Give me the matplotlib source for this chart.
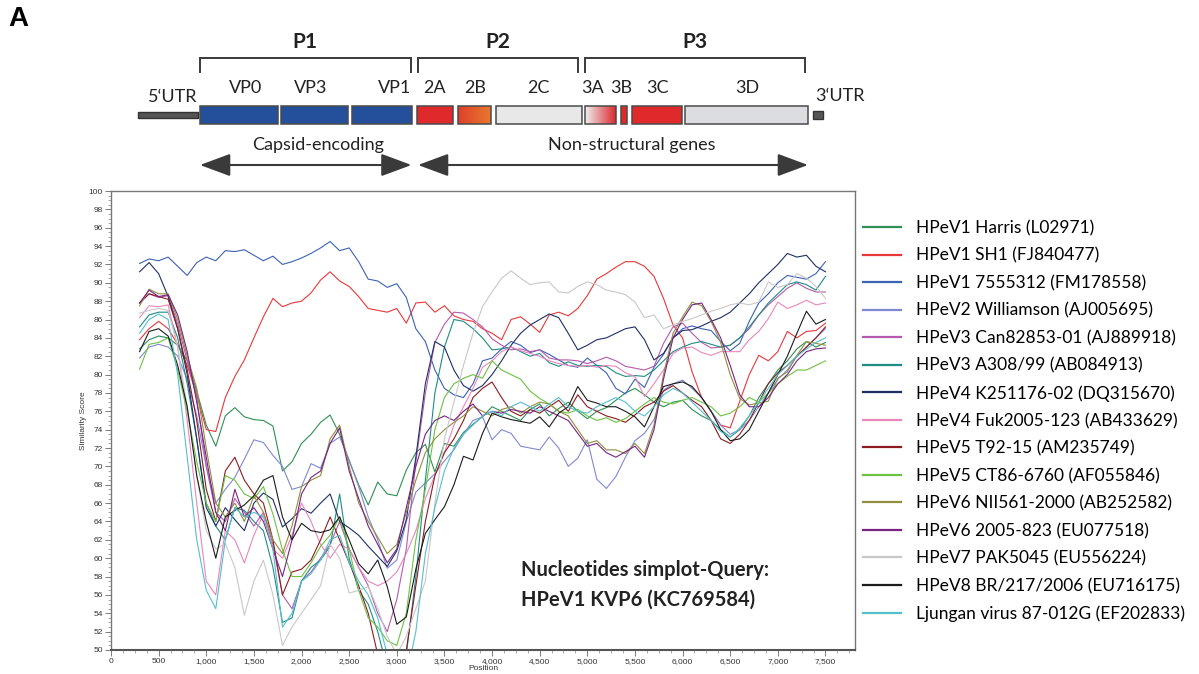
import numpy as np
import matplotlib.pyplot as plt
from matplotlib.patches import Rectangle
from matplotlib.colors import LinearSegmentedColormap
from matplotlib.ticker import MultipleLocator, StrMethodFormatter

# window centres (nt) of the simplot scan
position = list(range(300, 7501, 100))

# similarity scores, one list per reference strain
harris = [82.8, 83.8, 84.2, 84.0, 83.2, 81.5, 78.2, 74.5, 72.2, 75.5,
          76.4, 75.4, 75.1, 75.0, 74.4, 69.5, 70.5, 72.5, 73.5, 74.8,
          75.6, 73.5, 70.6, 68.0, 65.8, 68.3, 67.0, 66.8, 69.6, 71.5,
          72.4, 69.4, 72.5, 72.2, 73.7, 74.6, 75.4, 76.5, 76.0, 75.5,
          75.0, 76.2, 76.8, 75.5, 76.3, 77.0, 76.0, 75.2, 76.0, 76.4,
          77.2, 78.0, 78.5, 77.8, 77.0, 76.5, 77.0, 77.2, 76.2, 75.5,
          75.0, 74.0, 73.2, 74.0, 75.5, 77.5, 79.0, 80.5, 81.5, 82.8,
          83.6, 83.0, 83.5]
sh1 = [83.8, 85.0, 85.8, 85.0, 83.3, 81.0, 77.8, 74.0, 73.8, 77.5,
       79.8, 81.6, 84.0, 86.3, 88.3, 87.4, 87.8, 88.0, 88.9, 90.3,
       91.2, 90.2, 89.6, 88.5, 87.2, 87.0, 86.8, 87.2, 85.6, 87.8,
       87.9, 86.8, 87.5, 86.4, 86.0, 85.8, 85.0, 84.5, 83.8, 86.0,
       86.3, 85.5, 84.6, 86.5, 86.8, 86.4, 87.2, 88.6, 90.4, 91.0,
       91.7, 92.3, 92.3, 91.8, 90.7, 88.3, 85.4, 84.0, 80.3, 77.5,
       76.0, 74.5, 74.2, 77.1, 80.0, 82.1, 81.5, 82.5, 84.7, 84.0,
       84.7, 84.8, 85.6]
fm178558 = [92.1, 92.6, 92.4, 92.8, 91.8, 90.8, 92.2, 92.8, 92.4, 93.5,
            93.4, 93.6, 93.0, 92.4, 92.9, 92.0, 92.3, 92.7, 93.2, 93.8,
            94.5, 93.5, 93.8, 92.3, 90.4, 90.2, 89.5, 89.9, 88.4, 85.0,
            83.6, 80.5, 78.5, 77.8, 77.5, 79.0, 81.5, 81.8, 82.8, 83.6,
            83.2, 82.4, 82.7, 82.2, 81.6, 81.0, 80.8, 81.8, 81.0, 80.2,
            78.5, 77.9, 79.5, 78.6, 80.8, 82.2, 84.0, 85.0, 85.3, 85.0,
            84.8, 83.6, 82.6, 83.4, 85.8, 87.8, 88.8, 90.0, 90.8, 90.6,
            90.4, 91.0, 92.3]
williamson = [81.8, 83.0, 83.3, 83.0, 82.0, 79.5, 75.5, 70.0, 66.0, 67.5,
              68.8, 70.8, 72.9, 72.6, 71.2, 70.0, 67.5, 67.8, 70.3, 69.8,
              72.5, 73.2, 70.7, 67.8, 64.5, 62.0, 58.9, 59.8, 64.0, 67.2,
              68.2, 69.2, 70.6, 71.8, 73.5, 75.0, 75.4, 72.9, 74.0, 73.6,
              72.2, 72.0, 71.8, 73.2, 72.0, 70.0, 70.9, 72.9, 68.6, 67.6,
              68.9, 71.0, 72.8, 73.6, 75.1, 78.3, 79.0, 79.4, 78.5, 77.5,
              76.0, 74.5, 73.5, 74.0, 75.0, 76.5, 78.0, 79.5, 80.5, 82.0,
              83.0, 84.0, 85.0]
can82853 = [87.8, 88.8, 88.4, 88.6, 85.5, 81.5, 77.5, 70.0, 65.0, 64.0,
            66.5, 65.0, 63.5, 65.0, 61.5, 56.0, 54.5, 57.5, 58.5, 60.0,
            61.5, 64.0, 61.0, 59.0, 57.0, 54.0, 52.0, 55.5, 61.0, 70.5,
            78.0, 83.5, 85.5, 86.8, 86.7, 86.0, 85.2, 83.9, 83.2, 82.7,
            82.8, 82.5, 82.7, 81.8, 81.6, 81.6, 81.5, 81.2, 81.5, 81.9,
            81.5, 80.9, 80.7, 80.5, 80.9, 83.4, 85.2, 85.6, 84.5, 83.5,
            82.9, 83.0, 83.2, 84.0, 85.0, 86.5, 87.6, 88.5, 89.4, 90.0,
            89.4, 89.0, 89.0]
a308 = [85.2, 86.5, 86.8, 86.8, 84.0, 79.0, 73.0, 66.0, 63.5, 62.0,
        65.5, 65.2, 64.0, 63.0, 59.0, 53.0, 53.5, 57.5, 59.0, 59.8,
        61.3, 67.0, 60.0, 56.5, 55.0, 52.0, 48.0, 47.0, 49.5, 58.0,
        68.5, 78.0, 83.0, 86.0, 85.8, 85.0, 84.0, 82.7, 82.8, 83.0,
        82.5, 82.0, 82.3, 81.3, 80.9, 81.4, 81.0, 80.9, 81.0, 80.9,
        80.2, 79.8, 79.9, 79.8, 80.5, 81.5, 82.5, 83.0, 83.4, 83.6,
        83.3, 83.0, 83.2, 84.0, 85.2, 86.5, 87.8, 88.8, 89.8, 90.1,
        89.8, 89.2, 90.7]
k251176 = [91.2, 92.2, 91.0, 88.5, 85.0, 80.0, 73.0, 65.5, 63.5, 65.5,
           64.2, 63.0, 66.0, 67.1, 66.4, 63.4, 64.3, 65.4, 64.9, 66.0,
           67.0, 64.0, 63.3, 62.5, 61.3, 60.2, 59.1, 60.8, 64.2, 71.0,
           79.0, 83.6, 83.0, 80.5, 78.8, 78.2, 78.8, 80.0, 81.5, 83.2,
           84.5, 85.4, 86.0, 86.6, 86.2, 84.5, 82.7, 83.2, 83.8, 84.0,
           84.5, 85.0, 85.2, 83.8, 81.6, 82.3, 84.0, 84.8, 84.9, 85.3,
           85.8, 86.2, 86.8, 87.8, 88.8, 90.0, 91.0, 92.0, 93.2, 92.8,
           93.0, 91.8, 91.2]
fuk2005 = [86.2, 87.5, 87.4, 87.6, 83.0, 75.0, 66.0, 57.5, 56.0, 63.0,
           62.0, 59.5, 62.5, 64.8, 61.0, 60.0, 62.5, 66.0, 64.0, 61.5,
           60.0, 61.5, 61.0, 59.0, 57.5, 57.0, 57.5, 58.5, 60.5, 63.0,
           66.5, 69.0, 71.5, 74.5, 76.5, 78.5, 80.8, 81.5, 82.5, 83.0,
           82.6, 82.3, 82.0, 81.5, 81.2, 81.0, 80.9, 81.0, 80.8, 81.0,
           80.9, 80.2, 79.8, 77.6, 79.0, 80.5, 82.3, 82.9, 83.0, 82.4,
           82.1, 82.5, 82.5, 82.5, 83.8, 84.7, 86.1, 87.9, 87.2, 87.6,
           88.1, 87.6, 87.8]
t92 = [87.8, 88.8, 88.5, 88.2, 85.0, 80.5, 75.0, 67.5, 64.0, 69.5,
       71.0, 68.5, 67.0, 66.0, 62.0, 56.0, 58.5, 58.8, 59.8, 62.0,
       64.5, 62.0, 59.5, 57.0, 54.0, 49.5, 47.5, 48.0, 50.0, 57.0,
       64.0, 69.0, 71.5, 73.0, 75.0, 77.5, 78.5, 79.2, 77.5, 76.0,
       75.5, 76.2, 75.8, 76.5, 77.2, 76.0, 77.8, 76.5, 76.0, 75.5,
       75.2, 74.8, 75.6, 76.5, 77.0, 78.2, 78.8, 78.0, 77.2, 76.5,
       75.0, 73.0, 72.5, 73.5, 75.0, 77.0, 79.0, 80.2, 81.0, 82.0,
       83.0, 84.0, 85.2]
ct86 = [80.6, 83.3, 83.5, 84.0, 80.5, 76.0, 70.5, 66.0, 64.0, 69.0,
        68.5, 67.0, 66.5, 67.8, 64.8, 60.9, 58.0, 58.0, 59.5, 61.3,
        62.5, 64.5, 61.0, 56.5, 53.5, 52.5, 51.0, 50.5, 54.0, 62.0,
        67.5, 74.0, 77.5, 79.0, 79.6, 80.0, 79.6, 81.5, 80.5, 80.0,
        79.5, 78.2, 77.4, 76.8, 76.0, 75.8, 76.2, 75.5, 75.0, 75.3,
        74.8, 75.2, 76.0, 76.8, 77.5, 77.0, 76.8, 77.2, 77.5, 77.0,
        76.5, 75.5, 75.8, 76.5, 77.5, 77.0, 78.0, 79.0, 79.8, 80.5,
        80.5, 81.0, 81.5]
nii561 = [87.5, 89.3, 88.8, 88.8, 86.0, 82.0, 78.5, 72.0, 66.0, 64.5,
          66.0, 64.0, 66.8, 65.0, 62.0, 60.5, 63.5, 67.8, 68.5, 69.0,
          73.0, 74.5, 70.0, 66.0, 64.0, 62.3, 60.5, 61.5, 65.0, 68.5,
          71.5, 73.0, 74.0, 74.8, 75.5, 76.5, 76.0, 75.5, 76.2, 76.5,
          75.8, 76.5, 77.0, 76.8, 76.0, 75.5, 74.0, 72.5, 72.8, 71.8,
          71.8, 71.4, 72.5, 71.4, 74.5, 80.0, 84.5, 86.3, 87.9, 87.5,
          85.8, 83.5, 80.0, 77.4, 76.7, 76.9, 77.1, 79.6, 80.3, 82.1,
          83.6, 83.4, 83.2]
e2005 = [87.8, 89.2, 88.5, 88.7, 86.5, 82.5, 77.0, 71.0, 65.0, 63.0,
         67.5, 64.5, 65.5, 64.0, 61.0, 58.0, 62.0, 67.0, 68.8, 69.5,
         72.5, 74.2, 69.5, 66.5, 63.5, 61.5, 59.5, 61.0, 65.5, 70.0,
         73.5, 75.0, 75.5, 75.0, 76.0, 76.8, 75.5, 76.0, 75.8, 76.2,
         76.0, 75.8, 76.5, 76.0, 75.5, 75.0, 73.6, 72.2, 72.5, 71.5,
         71.0, 71.6, 72.2, 71.0, 74.0, 79.5, 84.0, 86.0, 87.6, 87.8,
         86.0, 84.0, 81.0, 77.8, 76.5, 76.5, 77.5, 79.0, 80.0, 81.5,
         82.5, 82.8, 82.9]
pak5045 = [86.7, 87.0, 87.2, 87.0, 83.0, 76.5, 69.0, 63.0, 61.0, 61.6,
           59.0, 53.8, 57.5, 59.8, 56.0, 50.5, 52.5, 54.0, 55.5, 57.0,
           61.5, 60.0, 56.2, 56.5, 56.9, 54.5, 51.5, 49.5, 51.5, 54.5,
           57.5, 66.0, 73.0, 77.0, 81.0, 84.5, 87.4, 89.0, 90.5, 91.3,
           90.5, 89.8, 90.0, 90.1, 89.0, 88.9, 89.6, 90.1, 89.8, 89.2,
           89.0, 88.7, 87.9, 86.2, 86.5, 85.0, 85.4, 85.8, 86.1, 86.5,
           86.9, 87.2, 87.6, 87.8, 87.6, 87.9, 90.1, 89.5, 89.8, 91.0,
           90.5, 89.6, 88.3]
br217 = [82.5, 84.7, 85.0, 84.2, 81.0, 76.5, 69.0, 64.0, 60.0, 64.5,
         65.2, 65.8, 66.8, 68.5, 69.0, 64.5, 62.0, 63.8, 63.0, 62.8,
         63.1, 64.5, 62.0, 59.4, 58.3, 59.8, 56.9, 52.8, 53.6, 58.8,
         62.7, 64.2, 65.6, 68.0, 71.1, 70.7, 73.6, 75.8, 75.4, 75.1,
         74.9, 74.7, 75.4, 74.3, 75.8, 76.5, 78.7, 77.2, 76.9, 76.5,
         76.5, 76.0, 75.4, 74.3, 76.5, 78.7, 79.0, 79.2, 78.7, 77.5,
         76.0, 74.0, 72.8, 73.0, 74.0, 76.0, 78.0, 80.0, 82.0, 84.5,
         86.9, 85.5, 86.0]
ljungan = [84.5, 86.0, 86.6, 86.0, 80.0, 71.0, 62.0, 56.5, 54.5, 62.0,
           65.5, 64.5, 65.0, 64.5, 61.0, 52.5, 54.0, 57.5, 58.3, 59.8,
           62.0, 62.5, 59.5, 57.5, 56.0, 53.5, 49.5, 47.5, 47.0, 52.0,
           60.5, 65.5, 69.5, 72.0, 73.5, 74.5, 75.5, 76.0, 75.5, 76.5,
           77.0, 76.5, 76.0, 76.8, 77.5, 76.5, 76.0, 75.8, 76.5, 77.0,
           77.5, 77.0, 76.0, 75.5, 76.5, 77.8, 78.5, 78.0, 77.0, 76.0,
           75.0, 73.8, 73.2, 74.2, 75.5, 77.0, 78.5, 80.0, 81.0, 82.0,
           82.8, 83.5, 84.0]

labels = ['HPeV1 Harris (L02971)', 'HPeV1 SH1 (FJ840477)', 'HPeV1 7555312 (FM178558)',
          'HPeV2 Williamson (AJ005695)', 'HPeV3 Can82853-01 (AJ889918)', 'HPeV3 A308/99 (AB084913)',
          'HPeV4 K251176-02 (DQ315670)', 'HPeV4 Fuk2005-123 (AB433629)', 'HPeV5 T92-15 (AM235749)',
          'HPeV5 CT86-6760 (AF055846)', 'HPeV6 NII561-2000 (AB252582)', 'HPeV6 2005-823 (EU077518)',
          'HPeV7 PAK5045 (EU556224)', 'HPeV8 BR/217/2006 (EU716175)', 'Ljungan virus 87-012G (EF202833)']
series = [harris, sh1, fm178558, williamson, can82853, a308, k251176, fuk2005,
          t92, ct86, nii561, e2005, pak5045, br217, ljungan]
colors = ['#2f8f55', '#e8383a', '#3d62b3', '#8088d2', '#b55aae', '#1f8c86', '#1e2f66', '#ea86bd',
          '#8c1c22', '#6cc241', '#8f8f3f', '#7a2482', '#c8c8c8', '#1b1b1b', '#54bfd0']

# genome map segments (drawing units = pixels of the figure)
seg_names = ['VP0', 'VP3', 'VP1', '2A', '2B', '2C', '3A', '3B', '3C', '3D']
seg_start = [200, 280.5, 351.5, 416.5, 457.5, 495.5, 584.5, 620.5, 631.5, 684.5]
seg_end = [277.5, 347.5, 411.5, 452.5, 490.5, 581.5, 615.5, 626.5, 681.5, 807.5]
seg_color = ['#234f9b', '#234f9b', '#234f9b', '#e0292b', 'grad_orange', '#e8e8e8',
             'grad_red', '#e0292b', '#e0292b', '#dcdde0']
seg_label_x = [246, 311, 395, 434, 475, 538, 593, 621, 657, 747]

fig = plt.figure(figsize=(11.99, 6.74), dpi=100)

# ---- genome diagram layer (pixel coordinates) ----
dg = fig.add_axes([0, 0, 1, 1])
dg.axis('off')

font = 'Lato'
dark = '#3a3a3a'
dg.text(8, 19, 'A', fontsize=20, fontweight='bold', family='Liberation Sans', va='center', ha='left')

for n, s, e, c in zip(seg_names, seg_start, seg_end, seg_color):
    y0, y1 = 106, 124
    if c.startswith('grad'):
        if c == 'grad_orange':
            cmap = LinearSegmentedColormap.from_list('o', ['#e0402a', '#e8782e'])
        else:
            cmap = LinearSegmentedColormap.from_list('r', ['#eeeeee', '#dd2a30'])
        grad = np.linspace(0, 1, 64).reshape(1, -1)
        dg.imshow(grad, cmap=cmap, extent=(s, e, y1, y0), aspect='auto', zorder=2)
        dg.add_patch(Rectangle((s, y0), e - s, y1 - y0, fill=False, ec='#4a4a4a', lw=1.1, zorder=3))
    else:
        dg.add_patch(Rectangle((s, y0), e - s, y1 - y0, fc=c, ec='#4a4a4a', lw=1.1, zorder=3))
for n, x in zip(seg_names, seg_label_x):
    dg.text(x, 88, n, fontsize=13, family=font, ha='center', va='center', color='#222')

# UTRs
dg.add_patch(Rectangle((138, 111.5), 60, 6.5, fc='#555555', ec='#333333', lw=1, zorder=3))
dg.add_patch(Rectangle((813, 110.5), 10, 8, fc='#555555', ec='#333333', lw=1, zorder=3))
dg.text(173, 97, '5‘UTR', fontsize=13, family=font, ha='center', va='center', color='#222')
dg.text(840, 96, '3‘UTR', fontsize=13, family=font, ha='center', va='center', color='#222')

# polyprotein brackets
for (a, b, name) in [(199.5, 411, 'P1'), (418, 577.5, 'P2'), (584.5, 804.5, 'P3')]:
    dg.plot([a, a, b, b], [72, 58, 58, 72], color=dark, lw=1.4, solid_joinstyle='miter')
    dg.text((a + b) / 2, 42, name, fontsize=15, fontweight='bold', family=font,
            ha='center', va='center', color='#222')

# region arrows
for (a, b, name, tx) in [(200, 411.5, 'Capsid-encoding', 318), (418, 808, 'Non-structural genes', 632)]:
    dg.annotate('', xy=(b, 165), xytext=(a, 165),
                arrowprops=dict(arrowstyle='<|-|>,head_length=1.35,head_width=0.5', mutation_scale=14,
                                color=dark, lw=1.5, shrinkA=0, shrinkB=0))
    dg.text(tx, 145, name, fontsize=13, family=font, ha='center', va='center', color='#222')

dg.set_xlim(0, 1199)
dg.set_ylim(674, 0)

# ---- simplot ----
ax = fig.add_axes([111 / 1199, 24 / 674, 744 / 1199, 459 / 674])
for y, c, lab in zip(series, colors, labels):
    ax.plot(position, y, color=c, lw=0.8, label=lab)

ax.set_xlim(0, 7810)
ax.set_ylim(50, 100)
ax.xaxis.set_major_locator(MultipleLocator(500))
ax.xaxis.set_minor_locator(MultipleLocator(125))
ax.yaxis.set_major_locator(MultipleLocator(2))
ax.yaxis.set_minor_locator(MultipleLocator(0.5))
ax.xaxis.set_major_formatter(StrMethodFormatter('{x:,.0f}'))
ax.tick_params(which='major', length=4, width=0.6, color='#666', labelsize=6,
               labelcolor='#333', pad=2)
ax.tick_params(which='minor', length=2, width=0.5, color='#888')
for t in ax.get_xticklabels() + ax.get_yticklabels():
    t.set_family('Liberation Sans')
for sp in ax.spines.values():
    sp.set_color('#777')
    sp.set_linewidth(1.0)
ax.spines['bottom'].set_color('#555')
ax.spines['bottom'].set_linewidth(1.5)
ax.set_xlabel('Position', fontsize=6, color='#333', family='Liberation Sans')
ax.xaxis.set_label_coords(0.5, -0.032)
ax.set_ylabel('Similarity Score', fontsize=6, labelpad=1, color='#333', family='Liberation Sans')

ax.text(0.551, 0.1416, 'Nucleotides simplot-Query:\nHPeV1 KVP6 (KC769584)', transform=ax.transAxes,
        fontsize=14.5, fontweight='bold', family=font, ha='left', va='center', color='#222',
        linespacing=1.62)

leg = ax.legend(loc='upper left', bbox_to_anchor=(863 / 1199, 1 - 220 / 674), bbox_transform=fig.transFigure,
                frameon=False, borderaxespad=0, borderpad=0, handlelength=2.2, handletextpad=0.85,
                labelspacing=0.655, prop={'family': font, 'size': 12.5})
for ln in leg.get_lines():
    ln.set_linewidth(1.6)

fig.savefig('out.png', dpi=100)
